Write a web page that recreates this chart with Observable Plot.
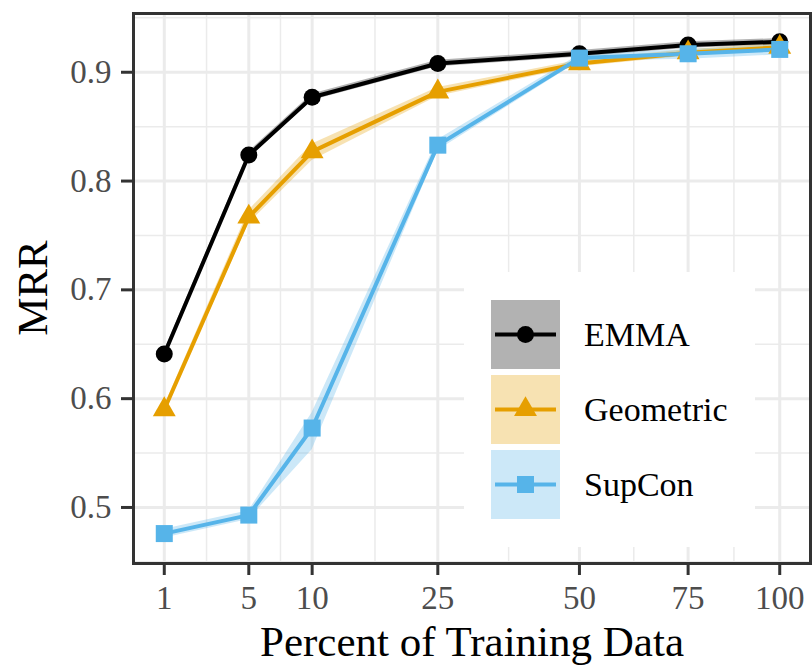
<!DOCTYPE html>
<html><head><meta charset="utf-8">
<script src="https://cdn.jsdelivr.net/npm/d3@7"></script>
<script src="https://cdn.jsdelivr.net/npm/@observablehq/plot@0.6"></script>
<style>body{margin:0;background:#fff}</style>
</head><body><div id="chart"></div>
<script>
const percents = [1, 5, 10, 25, 50, 75, 100];
const yTicks = [0.5, 0.6, 0.7, 0.8, 0.9];
const yMinor = [0.45, 0.55, 0.65, 0.75, 0.85, 0.95];
const seriesNames = ["EMMA", "Geometric", "SupCon"];
const seriesColors = ["#000000", "#E69F00", "#56B4E9"];
const seriesSymbols = ["circle", "triangle", "square"];

const emma    = [0.641, 0.824, 0.877, 0.908, 0.917, 0.925, 0.928];
const emmaLo  = [0.638, 0.821, 0.874, 0.905, 0.914, 0.922, 0.925];
const emmaHi  = [0.644, 0.827, 0.880, 0.911, 0.920, 0.928, 0.931];
const geo     = [0.590, 0.767, 0.827, 0.882, 0.908, 0.918, 0.923];
const geoLo   = [0.587, 0.761, 0.819, 0.878, 0.905, 0.915, 0.920];
const geoHi   = [0.593, 0.773, 0.834, 0.886, 0.911, 0.921, 0.926];
const sup     = [0.476, 0.493, 0.573, 0.833, 0.913, 0.917, 0.921];
const supLo   = [0.472, 0.489, 0.553, 0.828, 0.910, 0.912, 0.916];
const supHi   = [0.480, 0.497, 0.587, 0.838, 0.916, 0.921, 0.925];

const vals = [emma, geo, sup], los = [emmaLo, geoLo, supLo], his = [emmaHi, geoHi, supHi];
const rows = [];
seriesNames.forEach((s, i) => percents.forEach((p, j) => rows.push({series: s, p, v: vals[i][j], lo: los[i][j], hi: his[i][j]})));

// minor x grid: midpoints in sqrt space between major breaks
const xMinor = d3.pairs(percents).map(([a, b]) => ((Math.sqrt(a) + Math.sqrt(b)) / 2) ** 2);

const FONT = "'Liberation Serif', 'Times New Roman', serif";
const dotR = {EMMA: 8.5, Geometric: 8.5, SupCon: 9.6};

const plot = Plot.plot({
  width: 812, height: 665,
  marginLeft: 133, marginRight: 2, marginTop: 13, marginBottom: 102,
  style: {fontFamily: FONT, background: "white"},
  x: {type: "sqrt", domain: [0.3025, 109.2]},
  y: {domain: [0.4485, 0.954]},
  color: {domain: seriesNames, range: seriesColors},
  symbol: {domain: seriesNames, range: seriesSymbols},
  marks: [
    Plot.ruleX(xMinor, {stroke: "#EBEBEB", strokeWidth: 1.5}),
    Plot.ruleY(yMinor, {stroke: "#EBEBEB", strokeWidth: 1.5}),
    Plot.ruleX(percents, {stroke: "#EBEBEB", strokeWidth: 3}),
    Plot.ruleY(yTicks, {stroke: "#EBEBEB", strokeWidth: 3}),
    Plot.areaY(rows, {x: "p", y1: "lo", y2: "hi", z: "series", fill: "series", fillOpacity: 0.3}),
    Plot.line(rows, {x: "p", y: "v", z: "series", stroke: "series", strokeWidth: 4}),
    ...seriesNames.map(s => Plot.dot(rows.filter(d => d.series === s), {x: "p", y: "v", fill: "series", symbol: "series", r: dotR[s], stroke: "none"})),
    Plot.frame({stroke: "#333333", strokeWidth: 3}),
    Plot.axisX({ticks: percents, tickFormat: d => String(d), tickSize: 12, tickPadding: 10, fontSize: 33, label: null, strokeWidth: 3}),
    Plot.axisY({ticks: yTicks, tickFormat: d3.format(".1f"), tickSize: 12, tickPadding: 10, fontSize: 33, label: null, strokeWidth: 3})
  ]
});

const svg = d3.select(plot);
svg.selectAll('g[aria-label="x-axis tick"], g[aria-label="y-axis tick"]').attr("stroke", "#333333");
svg.selectAll('g[aria-label="x-axis tick label"], g[aria-label="y-axis tick label"]').attr("fill", "#4D4D4D");

// axis titles
svg.append("text").attr("x", 472).attr("y", 656).attr("text-anchor", "middle")
  .attr("font-family", FONT).attr("font-size", 43).attr("fill", "black").text("Percent of Training Data");
svg.append("text").attr("transform", "translate(47,288) rotate(-90)").attr("text-anchor", "middle")
  .attr("font-family", FONT).attr("font-size", 43).attr("fill", "black").text("MRR");

// legend
const lg = svg.append("g");
lg.append("rect").attr("x", 464).attr("y", 272).attr("width", 291).attr("height", 275).attr("fill", "white");
seriesNames.forEach((s, i) => {
  const top = 300 + i * 75;
  const cy = top + 34.5;
  lg.append("rect").attr("x", 491).attr("y", top).attr("width", 69).attr("height", 69)
    .attr("fill", seriesColors[i]).attr("fill-opacity", 0.3);
  lg.append("line").attr("x1", 495).attr("x2", 556).attr("y1", cy).attr("y2", cy)
    .attr("stroke", seriesColors[i]).attr("stroke-width", 4);
  const sym = {circle: d3.symbolCircle, triangle: d3.symbolTriangle, square: d3.symbolSquare}[seriesSymbols[i]];
  lg.append("path").attr("transform", `translate(525.5,${cy})`)
    .attr("d", d3.symbol(sym, Math.PI * dotR[s] ** 2)()).attr("fill", seriesColors[i]);
  lg.append("text").attr("x", 584).attr("y", cy).attr("dy", "0.35em").attr("text-anchor", "start")
    .attr("font-family", FONT).attr("font-size", 34).attr("fill", "black").text(s);
});

document.getElementById("chart").append(plot);
</script>
</body></html>
